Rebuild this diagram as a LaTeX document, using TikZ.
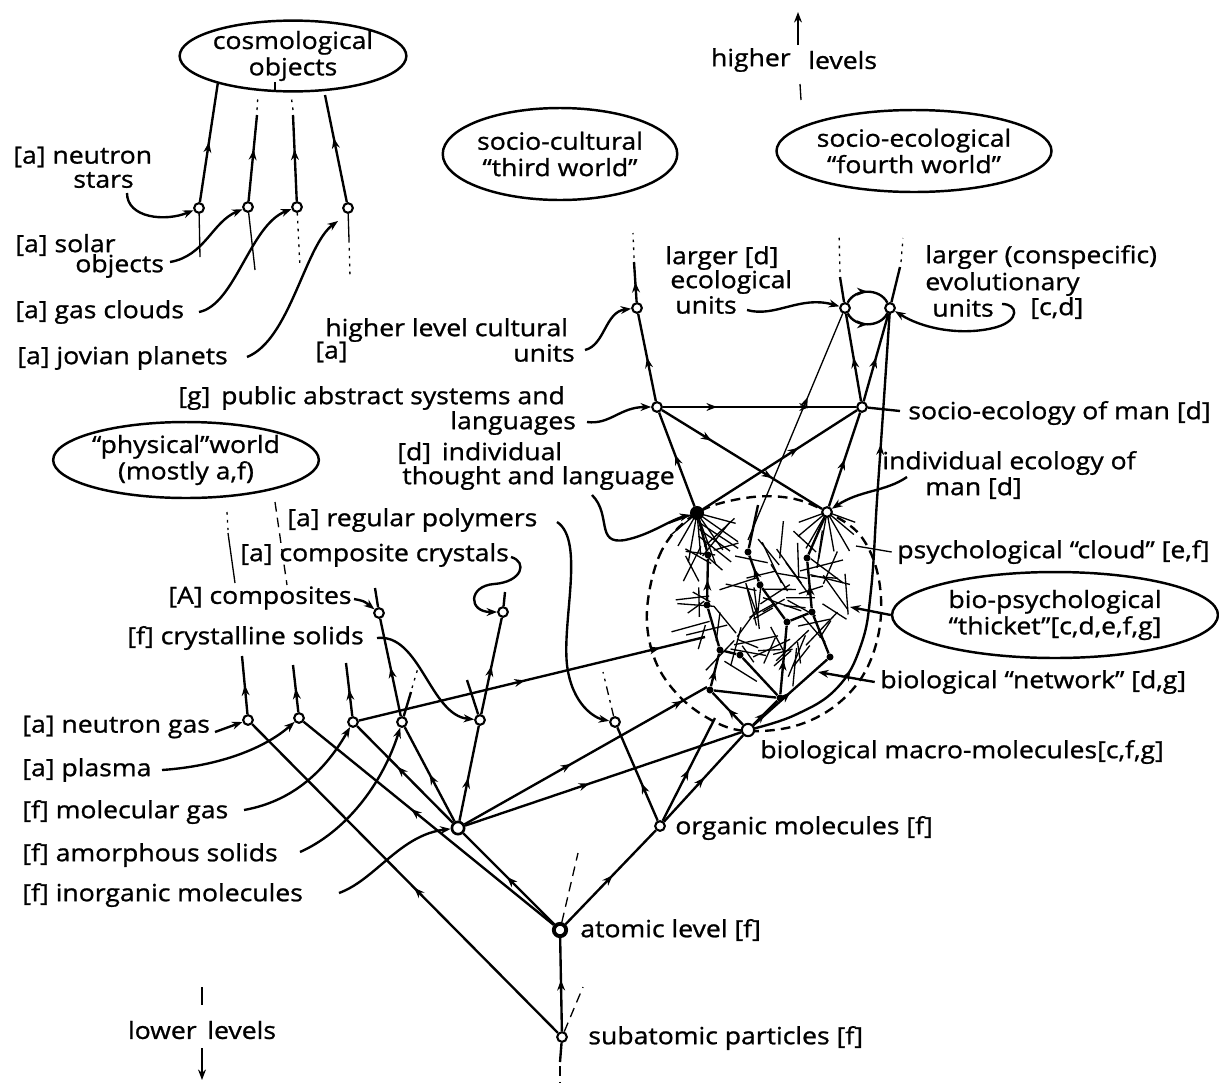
\documentclass[tikz,border=0pt]{standalone}
\usepackage{fontspec}
\setmainfont{Open Sans}[FakeStretch=1.12,FakeBold=1]
\usetikzlibrary{arrows.meta,decorations.markings,shapes.geometric,calc}
\begin{document}
\begin{tikzpicture}[x=0.02cm,y=-0.02cm,
  font=\fontsize{13.5}{15}\selectfont,
  lbl/.style={anchor=west,inner sep=0pt},
  opn/.style={circle,draw,fill=white,line width=1.2pt,inner sep=0pt,minimum size=5.5pt},
  hub/.style={circle,draw,fill=black,line width=1pt,inner sep=0pt,minimum size=7pt},
  dotn/.style={circle,fill=black,inner sep=0pt,minimum size=4pt},
  bubble/.style={ellipse,draw,line width=1.4pt,inner sep=0pt,align=center},
  ln/.style={line width=1.35pt},
  thinl/.style={line width=0.75pt},
  arr/.style={-{Stealth[length=6pt,width=4.5pt]}},
  marr/.style={postaction={decorate},decoration={markings,mark=at position #1 with {\arrow{Stealth[length=6pt,width=4.5pt]}}}},
  marr/.default=0.5,
  marrtwo/.style 2 args={postaction={decorate},decoration={markings,mark=at position #1 with {\arrow{Stealth[length=6pt,width=4.5pt]}},mark=at position #2 with {\arrow{Stealth[length=6pt,width=4.5pt]}}}},
  dotl/.style={dash pattern=on 1.5pt off 3pt},
  dashl/.style={dash pattern=on 5.5pt off 3.5pt}]

\fill[white] (0,0) rectangle (1219,1082);
\useasboundingbox (0,0) rectangle (1219,1082);

% ---------- cloud texture (drawn first) ----------
\draw[ln,dashl] plot[smooth cycle,tension=0.6] coordinates {(697,513) (662,550) (647,610) (655,660) (680,697) (715,722) (748,731) (795,726) (835,706) (865,672) (880,625) (878,575) (860,535) (827,512) (790,498) (745,498)};
\pgfmathsetseed{4242}
\foreach \i in {1,...,80}{
  \pgfmathsetmacro{\ang}{360*rnd}
  \pgfmathsetmacro{\rr}{sqrt(rnd)}
  \pgfmathsetmacro{\cx}{765+85*\rr*cos(\ang)}
  \pgfmathsetmacro{\cy}{598+78*\rr*sin(\ang)}
  \pgfmathsetmacro{\la}{180*rnd}
  \pgfmathsetmacro{\len}{10+13*rnd}
  \pgfmathsetmacro{\xa}{\cx+\len*cos(\la)}
  \pgfmathsetmacro{\ya}{\cy+\len*sin(\la)}
  \pgfmathsetmacro{\xb}{\cx-\len*cos(\la)}
  \pgfmathsetmacro{\yb}{\cy-\len*sin(\la)}
  \draw[thinl] (\xa,\ya) -- (\xb,\yb);
}
\foreach \a/\l in {15/40,35/50,55/45,70/55,85/42,100/50,120/38,140/35,160/30}{
  \draw[thinl] (697,513) -- ++(\a:\l);
}
\foreach \a/\l in {20/30,40/35,60/45,80/40,100/48,120/42,140/38,160/30}{
  \draw[thinl] (827,512) -- ++(\a:\l);
}
% long solid curve from macro-molecules up to evolutionary unit
\draw[ln,marrtwo={0.25}{0.72}] plot[smooth,tension=0.7] coordinates {(748,730) (795,715) (837,688) (861,645) (871,590) (877,500) (883,413) (890,308)};

% ---------- bubbles ----------
\node[bubble,minimum width=4.04cm,minimum height=1.36cm] (cosmo) at (293,56) {cosmological\\objects};
\node[bubble,minimum width=4.48cm,minimum height=1.84cm] (SC) at (560,154) {socio-cultural\\“third world”};
\node[bubble,minimum width=4.96cm,minimum height=1.64cm] (SEco) at (914,151) {socio-ecological\\“fourth world”};
\node[bubble,minimum width=4.92cm,minimum height=1.52cm] (PW) at (186,460) {“physical”world\\(mostly a,f)};
\node[bubble,minimum width=6.52cm,minimum height=1.72cm] (BPT) at (1055,615) {bio-psychological\\“thicket”[c,d,e,f,g]};

% ---------- points ----------
\node[opn] (n1) at (199,208) {};
\node[opn] (n2) at (248,207) {};
\node[opn] (n3) at (297,207) {};
\node[opn] (n4) at (348,208) {};
\node[opn] (HC) at (637,308) {};
\node[opn] (LE) at (845,308) {};
\node[opn] (RE) at (890,308) {};
\node[opn] (PA) at (657,407) {};
\node[opn] (SE) at (862,407) {};
\node[hub] (IT) at (697,513) {};
\node[opn] (IE) at (827,512) {};
\node[opn] (CO) at (379,613) {};
\node[opn] (CC) at (503,612) {};
\node[opn] (NG) at (248,720) {};
\node[opn] (PL) at (299,718) {};
\node[opn] (MG) at (353,722) {};
\node[opn] (AS) at (402,722) {};
\node[opn] (CS) at (480,720) {};
\node[opn,minimum size=7pt,line width=1.5pt] (IM) at (458,828) {};
\node[opn] (OM) at (660,826) {};
\node[opn,minimum size=7pt,line width=2.2pt] (AL) at (560,930) {};
\node[opn] (SP) at (562,1037) {};
\node[opn,minimum size=7pt] (BM) at (748,730) {};
\node[opn] (RP) at (615,722) {};
\node[dotn] (d1) at (708,555) {};
\node[dotn] (d2) at (748,552) {};
\node[dotn] (d3) at (807,558) {};
\node[dotn] (d4) at (707,605) {};
\node[dotn] (d5) at (787,622) {};
\node[dotn] (d6) at (720,650) {};
\node[dotn] (d7) at (740,655) {};
\node[dotn] (d8) at (710,690) {};
\node[dotn] (d9) at (780,698) {};
\node[dotn] (d10) at (830,657) {};
\node[dotn] (d11) at (812,612) {};
\node[dotn] (d12) at (760,585) {};

% ---------- cosmological part ----------
\draw[ln,marr] (n1) -- (218,82) coordinate (t1);
\draw[ln,marr=0.6] (n2) -- (257,115) coordinate (t2);
\draw[thinl,dotl] (257,110) coordinate (t2u) -- (258,95) coordinate (t2d);
\draw[ln,marr=0.6] (n3) -- (293,115) coordinate (t3);
\draw[thinl,dotl] (293,110) coordinate (t3u) -- (291,95) coordinate (t3d);
\draw[ln,marr=0.6] (n4) -- (325,95) coordinate (t4);
\draw[thinl] (n1) -- (200,257) coordinate (b1);
\draw[thinl] (n2) -- (255,270) coordinate (b2);
\draw[thinl,dotl] (n3) -- (300,268) coordinate (b3);
\draw[thinl] (n4) -- (349,240) coordinate (b4a);
\draw[thinl,dotl] (b4a) -- (350,277) coordinate (b4);
\draw[thinl] (275,82) coordinate (tk1) -- (275,90) coordinate (tk2);

\node[lbl] (lns1) at (13,157) {[a] neutron};
\node[lbl] (lns2) at (73,180) {stars};
\draw[ln,arr] (127,193) coordinate (lnsS) .. controls (127,218) and (165,222) .. (n1);
\node[lbl] (lso1) at (15,245) {[a] solar};
\node[lbl] (lso2) at (75,266) {objects};
\draw[ln,arr] (170,262) coordinate (lsoS) .. controls (205,256) and (212,222) .. (n2);
\node[lbl] (lgc) at (15,312) {[a] gas clouds};
\draw[ln,arr] (199,312) coordinate (lgcS) .. controls (235,305) and (250,225) .. (n3);
\node[lbl] (ljp) at (17,358) {[a] jovian planets};
\draw[ln,arr] (247,357) coordinate (ljpS) .. controls (290,340) and (305,245) .. (338,221) coordinate (ljpE);

% ---------- higher levels ----------
\node[lbl,anchor=east] (hl1) at (791,60) {higher};
\node[lbl] (hl2) at (808,60) {levels};
\draw[ln,arr] (798,45) coordinate (hlA) -- (798,12) coordinate (hlB);
\draw[thinl] (800,84) coordinate (hlC) -- (801,100) coordinate (hlD);

% ---------- cultural / ecological units ----------
\draw[ln,marr] (HC) -- (634,262) coordinate (hcU);
\draw[thinl,dotl] (634,258) coordinate (hcU2) -- (633,233) coordinate (hcD);
\node[lbl] (hlc1) at (325,330) {higher level cultural};
\node[lbl] (hlc2) at (315,352) {[a]};
\node[lbl] (hlc3) at (513,353) {units};
\draw[ln,arr] (585,350) coordinate (hlcS) .. controls (605,345) and (605,312) .. (HC);

\draw[ln] (LE) -- (840,277) coordinate (leU);
\draw[thinl,dotl] (840,272) coordinate (leU2) -- (839,233) coordinate (leD);
\draw[ln] (RE) -- (900,267) coordinate (reU);
\draw[thinl,dotl] (901,262) coordinate (reU2) -- (903,238) coordinate (reD);
\draw[ln,marr] (LE) .. controls (855,288) and (880,288) .. (RE);
\draw[ln,marr] (LE) .. controls (855,328) and (880,328) .. (RE);
\node[lbl] (lu1) at (665,258) {larger [d]};
\node[lbl] (lu2) at (670,282) {ecological};
\node[lbl] (lu3) at (675,305) {units};
\draw[ln,arr] (747,310) coordinate (luS) .. controls (775,318) and (800,295) .. (LE);
\node[lbl] (ev1) at (925,257) {larger (conspecific)};
\node[lbl] (ev2) at (925,284) {evolutionary};
\node[lbl] (ev3) at (932,308) {units};
\node[lbl] (ev4) at (1030,308) {[c,d]};
\draw[ln,arr] (1002,304) coordinate (evS) .. controls (1018,304) and (1020,320) .. (997,327) .. controls (965,336) and (925,330) .. (RE);

% ---------- upper network ----------
\draw[ln,marr] (PA) -- (HC);
\draw[ln,marrtwo={0.28}{0.76}] (PA) -- (SE);
\draw[ln] (SE) -- (900,411) coordinate (seE);
\node[lbl] (sem) at (908,413) {socio-ecology of man [d]};
\draw[ln,marrtwo={0.31}{0.69}] (PA) -- (IE);
\draw[ln,marr=0.62] (IT) -- (SE);
\draw[ln,marr=0.55] (IT) -- (PA);
\draw[ln,marr] (IE) -- (SE);
\draw[ln,marr] (SE) -- (LE);
\draw[ln,marr] (SE) -- (RE);
\draw[thinl,marr=0.63] (748,540) coordinate (leL) -- (LE);
\node[lbl] (pa1) at (178,398) {[g]\, public abstract systems and};
\node[lbl] (pa2) at (450,423) {languages};
\draw[ln,arr] (587,422) coordinate (paS) .. controls (610,425) and (620,407) .. (PA);
\node[lbl] (it1) at (397,453) {[d]\, individual};
\node[lbl] (it2) at (402,478) {thought and language};
\draw[ln,arr] (592,495) coordinate (itS) .. controls (612,515) and (595,545) .. (625,540) .. controls (650,535) and (670,520) .. (IT);
\node[lbl] (ie1) at (882,463) {individual ecology of};
\node[lbl] (ie2) at (925,488) {man [d]};
\draw[ln,arr] (907,477) coordinate (ieS) .. controls (885,492) and (860,490) .. (IE);

% ---------- biological network ----------
\draw[ln,marr] (BM) -- (d8);
\draw[ln,marr] (d8) -- (d6);
\draw[ln] (d6) -- (d4);
\draw[ln,marr] (d4) -- (d1);
\draw[ln] (d1) -- (IT);
\draw[ln,marr] (BM) -- (d9);
\draw[ln,marr] (d9) -- (d5);
\draw[ln] (d5) -- (d12);
\draw[ln,marr] (d12) -- (d2);
\draw[ln] (d5) -- (d11);
\draw[ln,marr] (d11) -- (d3);
\draw[ln] (d3) -- (IE);
\draw[ln] (d6) -- (d7);
\draw[ln] (d7) -- (d9);
\draw[ln] (d8) -- (d9);
\draw[ln,marr] (BM) -- (d10);
\draw[ln] (d10) -- (d11);
\draw[ln] (d2) -- (758,505) coordinate (d2e);
\node[lbl] (psy) at (897,552) {psychological “cloud” [e,f]};
\draw[thinl] ([xshift=-3pt]psy.west) -- (856,546) coordinate (psyE);
\draw[ln,arr] (BPT.west) -- (850,607) coordinate (bptE);
\node[lbl] (net) at (880,682) {biological “network” [d,g]};
\draw[ln,arr] ([xshift=-3pt]net.west) -- (818,672) coordinate (netE);

% ---------- physical world ----------
\draw[thinl,dotl] (227,512) coordinate (pw1a) -- (228,530) coordinate (pw1b);
\draw[thinl] (228,533) coordinate (pw1c) -- (235,583) coordinate (pw1d);
\draw[thinl,dashl] (275,502) coordinate (pw2a) -- (287,585) coordinate (pw2b);
\node[lbl] (rp1) at (287,520) {[a] regular polymers};
\node[lbl] (cc1) at (240,555) {[a] composite crystals};
\node[lbl] (co1) at (168,598) {[A] composites};
\node[lbl] (cs1) at (127,638) {[f] crystalline solids};
\draw[ln,arr] (354,599) coordinate (coS) .. controls (364,601) .. (CO);
\draw[ln,arr] (511,557) coordinate (ccS) .. controls (528,562) and (522,582) .. (494,584) .. controls (468,586) and (468,612) .. (CC);
\draw[ln,arr] (377,638) coordinate (csS) .. controls (420,633) and (430,715) .. (CS);
\draw[ln,arr] (557,522) coordinate (rpS) .. controls (585,540) and (562,620) .. (567,665) .. controls (572,705) and (595,718) .. (RP);

% ---------- lower network ----------
\draw[ln,marr] (NG) -- (242,656) coordinate (ngU);
\draw[ln,marr] (PL) -- (293,665) coordinate (plU);
\draw[ln,marr] (MG) -- (346,663) coordinate (mgU);
\draw[ln] (AS) -- (411,692) coordinate (asU);
\draw[thinl,dotl] (412,688) coordinate (asU2) -- (418,668) coordinate (asD);
\draw[ln,marr] (AS) -- (CO);
\draw[ln] (CO) -- (375,588) coordinate (coU);
\draw[ln,marr] (CS) -- (CC);
\draw[ln] (CS) -- (467,680) coordinate (csU);
\draw[ln] (CC) -- (505,592) coordinate (ccU);
\draw[ln,marrtwo={0.48}{0.87}] (MG) -- (705,637) coordinate (mgE);
\draw[ln,marr=0.47] (SP) -- (NG);
\draw[ln,marr=0.57] (AL) -- (PL);
\draw[ln,marr=0.58] (IM) -- (MG);
\draw[ln,marr] (IM) -- (AS);
\draw[ln,marr=0.45] (IM) -- (CS);
\draw[ln,marr=0.52] (AL) -- (IM);
\draw[ln,marrtwo={0.44}{0.9}] (IM) -- (707,687) coordinate (imE);
\draw[ln,marr=0.45] (IM) -- (BM);
\draw[ln,marr=0.52] (AL) -- (OM);
\draw[ln,marr=0.51] (OM) -- (BM);
\draw[ln,marr] (OM) -- (715,718) coordinate (omE);
\draw[ln,marr=0.4] (OM) -- (RP);
\draw[thinl,dash pattern=on 5pt off 3pt on 1.5pt off 3pt] (RP) -- (603,672) coordinate (rpU);
\draw[thinl,dashl] (AL) -- (578,853) coordinate (alU);
\draw[ln,marr=0.55] (SP) -- (AL);
\draw[thinl,dashl] (SP) -- (583,987) coordinate (spU);
\draw[ln] (SP) -- (560,1062) coordinate (spD);
\draw[thinl,dashl] (560,1066) coordinate (spD2) -- (560,1082) coordinate (spD3);

\node[lbl] (lng) at (22,727) {[a] neutron gas};
\draw[ln,arr] (215,732) coordinate (ngS) -- (NG);
\node[lbl] (lpl) at (22,770) {[a] plasma};
\draw[ln,arr] (162,770) coordinate (plS) .. controls (220,766) and (265,748) .. (PL);
\node[lbl] (lmg) at (22,812) {[f] molecular gas};
\draw[ln,arr] (244,810) coordinate (mgS) .. controls (300,800) and (330,762) .. (MG);
\node[lbl] (las) at (22,855) {[f] amorphous solids};
\draw[ln,arr] (300,852) coordinate (asS) .. controls (345,832) and (382,785) .. (AS);
\node[lbl] (lim) at (22,895) {[f] inorganic molecules};
\draw[ln,arr] (339,893) coordinate (imS) .. controls (375,880) and (400,835) .. (IM);

\node[lbl] (lom) at (675,828) {organic molecules [f]};
\node[lbl] (lal) at (580,930) {atomic level [f]};
\node[lbl] (lsp) at (588,1038) {subatomic particles [f]};
\node[lbl] (lbm) at (760,752) {biological macro-molecules[c,f,g]};

\node[lbl,anchor=east] (lw1) at (197,1030) {lower};
\node[lbl] (lw2) at (207,1030) {levels};
\draw[thinl] (202,987) coordinate (lwA) -- (202,1005) coordinate (lwB);
\draw[ln,arr] (202,1048) coordinate (lwC) -- (202,1080) coordinate (lwD);
\end{tikzpicture}
\end{document}
